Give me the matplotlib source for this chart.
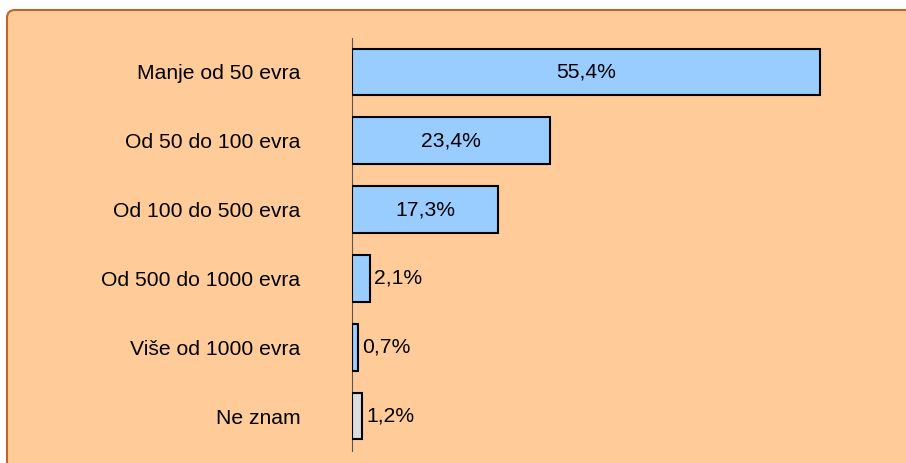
import matplotlib.pyplot as plt
from matplotlib.patches import FancyBboxPatch
from matplotlib.transforms import IdentityTransform

plt.rcParams['font.family'] = ['Liberation Sans', 'DejaVu Sans']

categories = ["Manje od 50 evra", "Od 50 do 100 evra", "Od 100 do 500 evra",
              "Od 500 do 1000 evra", "Više od 1000 evra", "Ne znam"]
values = [55.4, 23.4, 17.3, 2.1, 0.7, 1.2]
colors = ["#99CCFF"] * 5 + ["#DDDDDD"]

fig = plt.figure(figsize=(9.06, 4.63), dpi=100, facecolor="white")

# rounded peach frame in pixel coords, running off the right/bottom edge
frame = FancyBboxPatch((7, -300), 3000, 453 + 300,
                       boxstyle="round,pad=0,rounding_size=8",
                       transform=IdentityTransform(), facecolor="#FFCC99",
                       edgecolor="#C0642E", linewidth=1.5, zorder=-5)
fig.add_artist(frame)

ax = fig.add_axes([352 / 906, 12.5 / 463, 507 / 906, 413 / 463])
ax.set_facecolor("none")
ax.set_zorder(2)

ypos = list(range(len(categories)))
bars = ax.barh(ypos, values, height=0.68, color=colors,
               edgecolor="black", linewidth=1.5, zorder=3)
ax.set_ylim(len(categories) - 0.5, -0.5)
ax.set_xlim(0, 60)

ax.set_yticks(ypos)
ax.set_yticklabels(categories, fontsize=15.2)
ax.tick_params(axis="y", length=0, pad=37)
ax.set_xticks([])

for s in ["top", "right", "bottom"]:
    ax.spines[s].set_visible(False)
ax.spines["left"].set_color("#555555")
ax.spines["left"].set_linewidth(0.8)

for y, v in zip(ypos, values):
    lbl = f"{v:.1f}%".replace(".", ",")
    if v > 10:
        ax.text(v / 2, y, lbl, ha="center", va="center", fontsize=15.2, zorder=4)
    else:
        ax.text(v + 0.45, y, lbl, ha="left", va="center", fontsize=15.2, zorder=4)

fig.savefig("out.png", dpi=100, facecolor=fig.get_facecolor())
